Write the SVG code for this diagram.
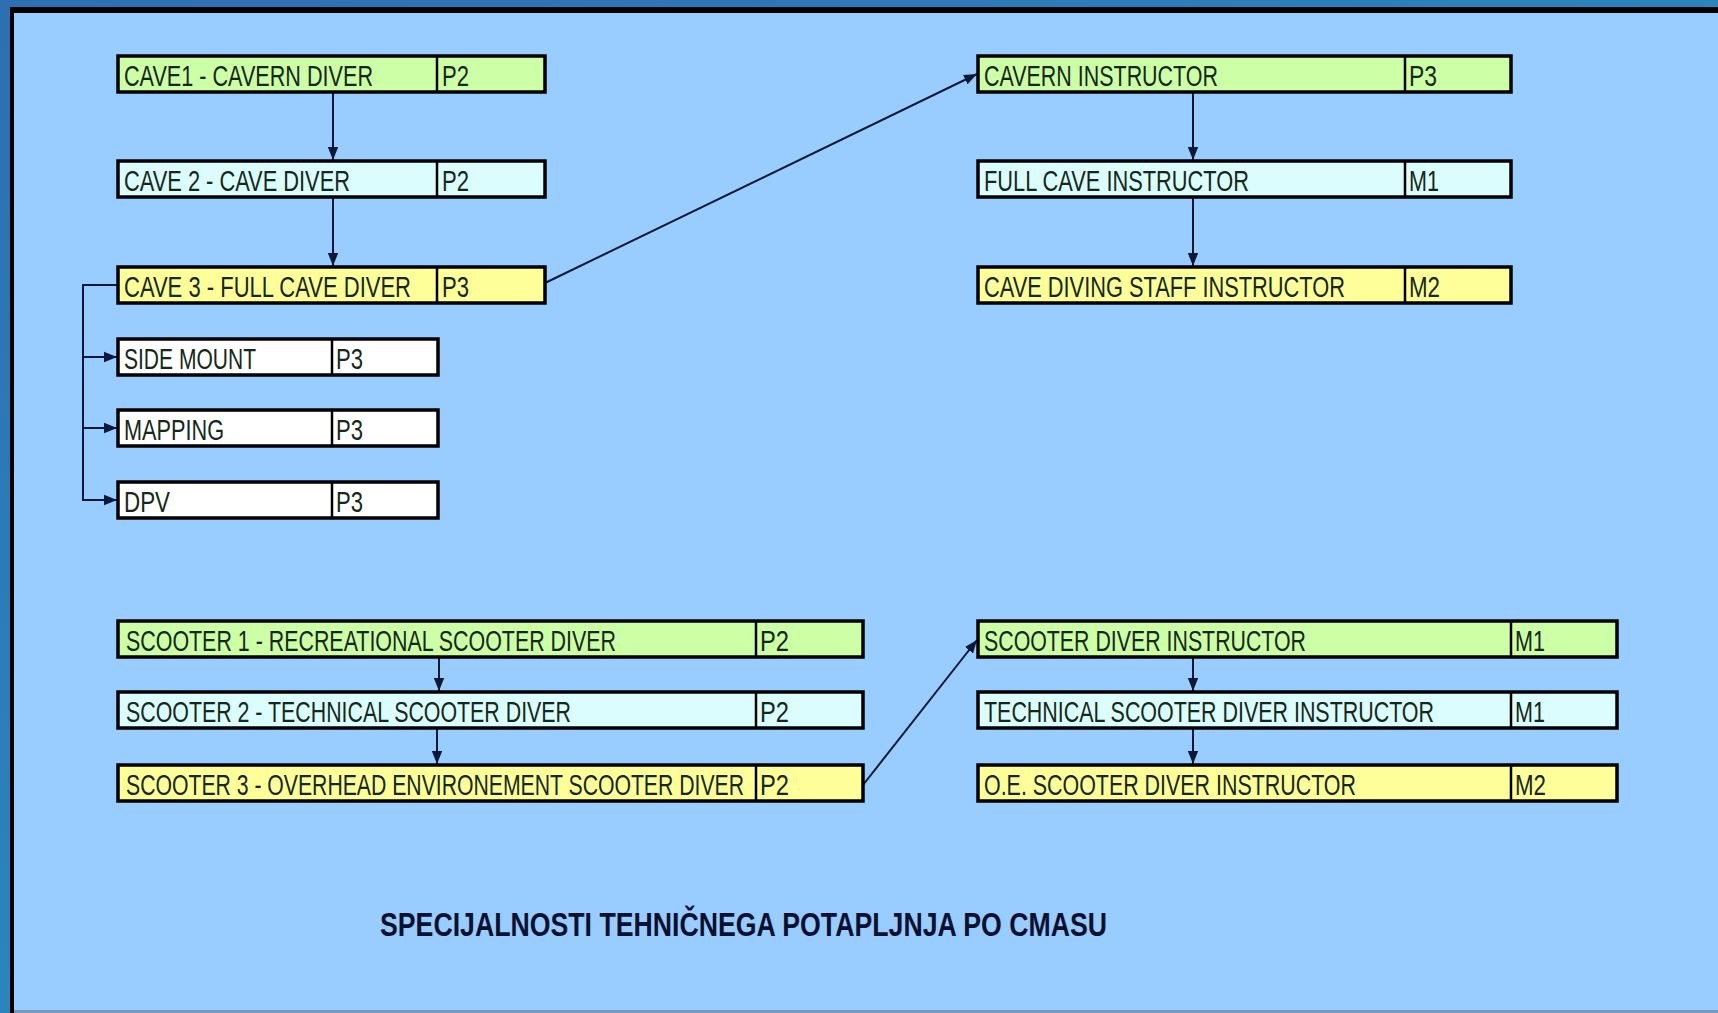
<svg xmlns="http://www.w3.org/2000/svg" width="1718" height="1013" viewBox="0 0 1718 1013">
<defs>
<linearGradient id="outer" x1="0" y1="0" x2="1" y2="1">
<stop offset="0" stop-color="#2d6fb0"/>
<stop offset="1" stop-color="#2a9ac8"/>
</linearGradient>
<marker id="arrB" viewBox="0 0 10 10" refX="10" refY="5" markerWidth="13" markerHeight="13" markerUnits="userSpaceOnUse" orient="auto">
<path d="M0,1 L10,5 L0,9 z" fill="#0c1838"/>
</marker>
</defs>
<style>
.box{stroke:#000;stroke-width:3.5}
.g{fill:#ccffa6}
.c{fill:#dcfdfd}
.y{fill:#ffff99}
.w{fill:#ffffff}
.div{stroke:#000;stroke-width:2.5}
.t{font-family:"Liberation Sans",Arial,sans-serif;font-size:29px;fill:#15281a}
.conn{fill:none;stroke:#0c1838;stroke-width:2}
.title{font-family:"Liberation Sans",Arial,sans-serif;font-size:33px;font-weight:bold;fill:#0a1030}
</style>
<rect x="0" y="0" width="1718" height="1013" fill="url(#outer)"/>
<rect x="10" y="7" width="1708" height="1006" fill="#000"/>
<rect x="14" y="13" width="1704" height="997" fill="#99ccff"/>
<rect x="14" y="1010" width="1704" height="3" fill="#7a9ab8"/>

<g id="connectors">
<line class="conn" x1="333" y1="92" x2="333" y2="160" marker-end="url(#arrB)"/>
<line class="conn" x1="333" y1="197" x2="333" y2="266" marker-end="url(#arrB)"/>
<polyline class="conn" points="118,285 83,285 83,500 117,500" marker-end="url(#arrB)"/>
<line class="conn" x1="83" y1="357" x2="117" y2="357" marker-end="url(#arrB)"/>
<line class="conn" x1="83" y1="428" x2="117" y2="428" marker-end="url(#arrB)"/>
<line class="conn" x1="545" y1="283" x2="977" y2="74" marker-end="url(#arrB)"/>
<line class="conn" x1="1193" y1="92" x2="1193" y2="160" marker-end="url(#arrB)"/>
<line class="conn" x1="1193" y1="197" x2="1193" y2="266" marker-end="url(#arrB)"/>
<line class="conn" x1="439" y1="657" x2="439" y2="691" marker-end="url(#arrB)"/>
<line class="conn" x1="437" y1="728" x2="437" y2="764" marker-end="url(#arrB)"/>
<line class="conn" x1="863" y1="785" x2="977" y2="640" marker-end="url(#arrB)"/>
<line class="conn" x1="1193" y1="657" x2="1193" y2="691" marker-end="url(#arrB)"/>
<line class="conn" x1="1193" y1="728" x2="1193" y2="764" marker-end="url(#arrB)"/>
</g>

<g id="cave1">
<rect class="box g" x="118" y="56" width="427" height="36"/>
<line class="div" x1="437" y1="56" x2="437" y2="92"/>
<text class="t" x="124" y="86" textLength="249" lengthAdjust="spacingAndGlyphs">CAVE1 - CAVERN DIVER</text>
<text class="t" x="442" y="86" textLength="27" lengthAdjust="spacingAndGlyphs">P2</text>
</g>
<g id="cave2">
<rect class="box c" x="118" y="161" width="427" height="36"/>
<line class="div" x1="437" y1="161" x2="437" y2="197"/>
<text class="t" x="124" y="191" textLength="226" lengthAdjust="spacingAndGlyphs">CAVE 2 - CAVE DIVER</text>
<text class="t" x="442" y="191" textLength="27" lengthAdjust="spacingAndGlyphs">P2</text>
</g>
<g id="cave3">
<rect class="box y" x="118" y="267" width="427" height="36"/>
<line class="div" x1="437" y1="267" x2="437" y2="303"/>
<text class="t" x="124" y="297" textLength="287" lengthAdjust="spacingAndGlyphs">CAVE 3 - FULL CAVE DIVER</text>
<text class="t" x="442" y="297" textLength="27" lengthAdjust="spacingAndGlyphs">P3</text>
</g>
<g id="sidemount">
<rect class="box w" x="118" y="339" width="320" height="36"/>
<line class="div" x1="332" y1="339" x2="332" y2="375"/>
<text class="t" x="124" y="369" textLength="132" lengthAdjust="spacingAndGlyphs">SIDE MOUNT</text>
<text class="t" x="336" y="369" textLength="27" lengthAdjust="spacingAndGlyphs">P3</text>
</g>
<g id="mapping">
<rect class="box w" x="118" y="410" width="320" height="36"/>
<line class="div" x1="332" y1="410" x2="332" y2="446"/>
<text class="t" x="124" y="440" textLength="100" lengthAdjust="spacingAndGlyphs">MAPPING</text>
<text class="t" x="336" y="440" textLength="27" lengthAdjust="spacingAndGlyphs">P3</text>
</g>
<g id="dpv">
<rect class="box w" x="118" y="482" width="320" height="36"/>
<line class="div" x1="332" y1="482" x2="332" y2="518"/>
<text class="t" x="124" y="512" textLength="46" lengthAdjust="spacingAndGlyphs">DPV</text>
<text class="t" x="336" y="512" textLength="27" lengthAdjust="spacingAndGlyphs">P3</text>
</g>
<g id="cavern-instructor">
<rect class="box g" x="978" y="56" width="533" height="36"/>
<line class="div" x1="1405" y1="56" x2="1405" y2="92"/>
<text class="t" x="984" y="86" textLength="234" lengthAdjust="spacingAndGlyphs">CAVERN INSTRUCTOR</text>
<text class="t" x="1409" y="86" textLength="28" lengthAdjust="spacingAndGlyphs">P3</text>
</g>
<g id="full-cave-instructor">
<rect class="box c" x="978" y="161" width="533" height="36"/>
<line class="div" x1="1405" y1="161" x2="1405" y2="197"/>
<text class="t" x="984" y="191" textLength="265" lengthAdjust="spacingAndGlyphs">FULL CAVE INSTRUCTOR</text>
<text class="t" x="1409" y="191" textLength="30" lengthAdjust="spacingAndGlyphs">M1</text>
</g>
<g id="staff-instructor">
<rect class="box y" x="978" y="267" width="533" height="36"/>
<line class="div" x1="1405" y1="267" x2="1405" y2="303"/>
<text class="t" x="984" y="297" textLength="361" lengthAdjust="spacingAndGlyphs">CAVE DIVING STAFF INSTRUCTOR</text>
<text class="t" x="1409" y="297" textLength="31" lengthAdjust="spacingAndGlyphs">M2</text>
</g>
<g id="scooter1">
<rect class="box g" x="118" y="621" width="745" height="36"/>
<line class="div" x1="756" y1="621" x2="756" y2="657"/>
<text class="t" x="126" y="651" textLength="490" lengthAdjust="spacingAndGlyphs">SCOOTER 1 - RECREATIONAL  SCOOTER DIVER</text>
<text class="t" x="760" y="651" textLength="29" lengthAdjust="spacingAndGlyphs">P2</text>
</g>
<g id="scooter2">
<rect class="box c" x="118" y="692" width="745" height="36"/>
<line class="div" x1="756" y1="692" x2="756" y2="728"/>
<text class="t" x="126" y="722" textLength="445" lengthAdjust="spacingAndGlyphs">SCOOTER 2 - TECHNICAL  SCOOTER DIVER</text>
<text class="t" x="760" y="722" textLength="29" lengthAdjust="spacingAndGlyphs">P2</text>
</g>
<g id="scooter3">
<rect class="box y" x="118" y="765" width="745" height="36"/>
<line class="div" x1="756" y1="765" x2="756" y2="801"/>
<text class="t" x="126" y="795" textLength="618" lengthAdjust="spacingAndGlyphs">SCOOTER 3 - OVERHEAD ENVIRONEMENT  SCOOTER DIVER</text>
<text class="t" x="760" y="795" textLength="29" lengthAdjust="spacingAndGlyphs">P2</text>
</g>
<g id="scooter-instructor">
<rect class="box g" x="978" y="621" width="639" height="36"/>
<line class="div" x1="1511" y1="621" x2="1511" y2="657"/>
<text class="t" x="984" y="651" textLength="322" lengthAdjust="spacingAndGlyphs">SCOOTER DIVER INSTRUCTOR</text>
<text class="t" x="1515" y="651" textLength="30" lengthAdjust="spacingAndGlyphs">M1</text>
</g>
<g id="tech-scooter-instructor">
<rect class="box c" x="978" y="692" width="639" height="36"/>
<line class="div" x1="1511" y1="692" x2="1511" y2="728"/>
<text class="t" x="984" y="722" textLength="450" lengthAdjust="spacingAndGlyphs">TECHNICAL  SCOOTER DIVER INSTRUCTOR</text>
<text class="t" x="1515" y="722" textLength="30" lengthAdjust="spacingAndGlyphs">M1</text>
</g>
<g id="oe-scooter-instructor">
<rect class="box y" x="978" y="765" width="639" height="36"/>
<line class="div" x1="1511" y1="765" x2="1511" y2="801"/>
<text class="t" x="984" y="795" textLength="372" lengthAdjust="spacingAndGlyphs">O.E. SCOOTER DIVER INSTRUCTOR</text>
<text class="t" x="1515" y="795" textLength="31" lengthAdjust="spacingAndGlyphs">M2</text>
</g>

<text class="title" x="380" y="936" textLength="727" lengthAdjust="spacingAndGlyphs">SPECIJALNOSTI TEHNIČNEGA POTAPLJNJA PO CMASU</text>
</svg>
